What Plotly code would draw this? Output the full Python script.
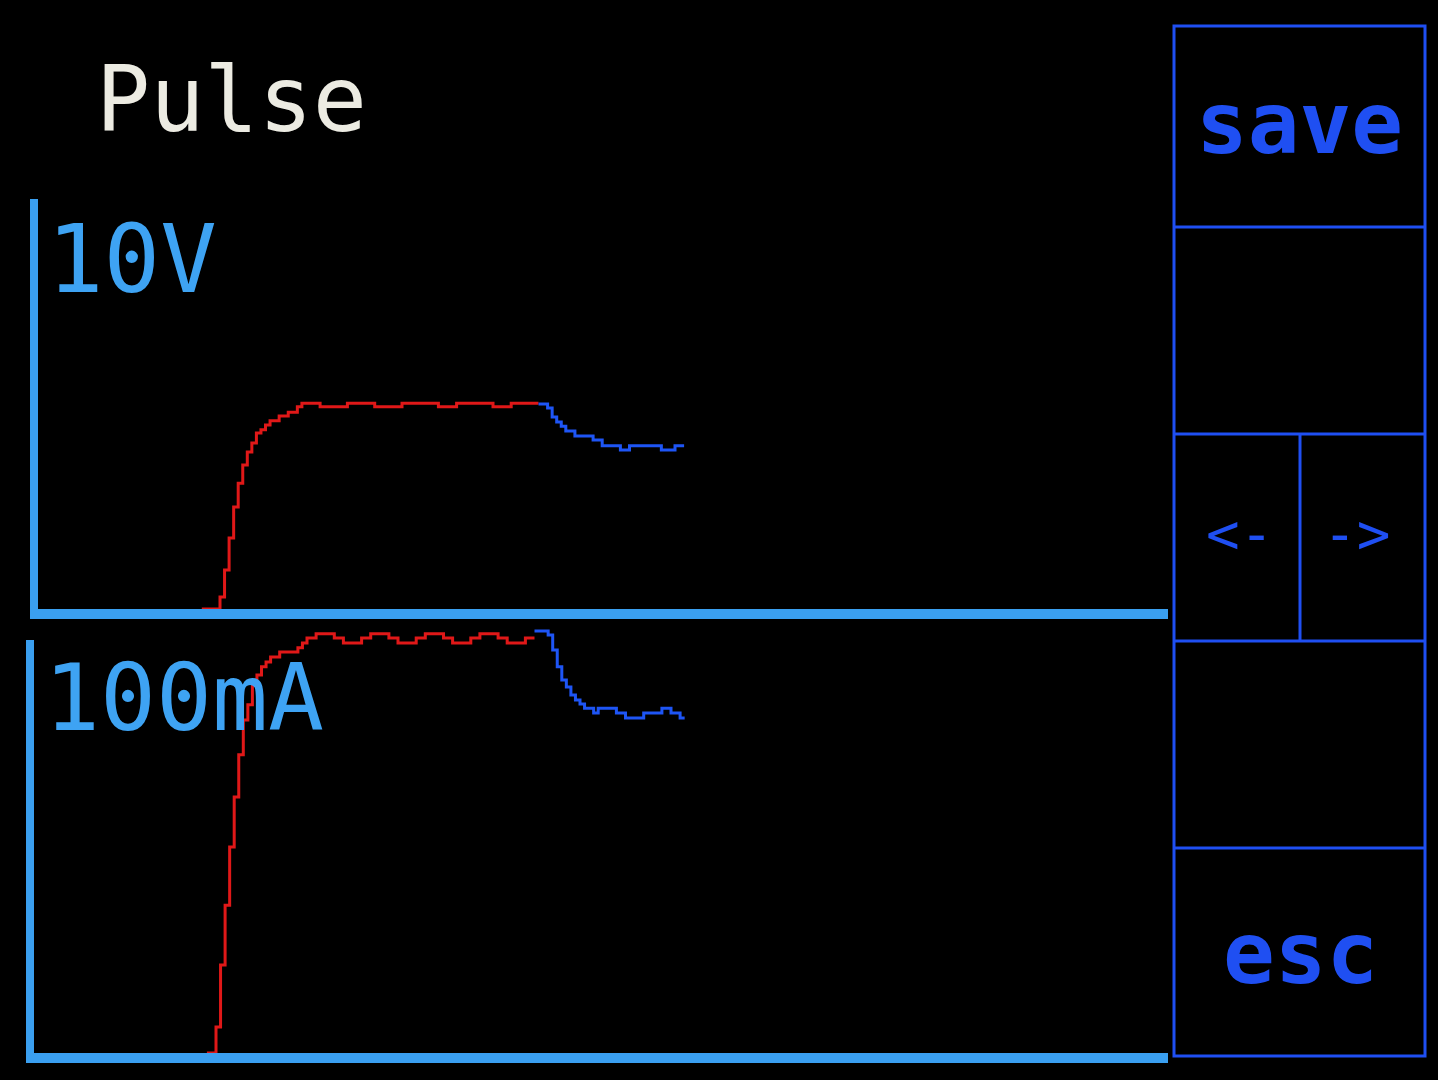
import plotly.graph_objects as go

W, H = 1438, 1080

# ---------------- data (sample index, value) ----------------
# Voltage panel (V): pulse phase (red) and relaxation phase (blue)
v_on_t = [36, 40, 41, 42, 43, 44, 45, 46, 47, 48, 49, 50, 51, 53, 55, 57, 58,
          62, 68, 74, 80, 88, 92, 100, 104, 110]
v_on_v = [0.0, 0.29, 0.95, 1.73, 2.49, 3.07, 3.51, 3.83, 4.05, 4.29, 4.37, 4.49,
          4.59, 4.71, 4.80, 4.93, 5.02, 4.93, 5.02, 4.93, 5.02, 4.93, 5.02,
          4.93, 5.02, 5.02]
v_off_t = [110, 112, 113, 114, 115, 116, 118, 122, 124, 128, 130, 137, 140, 142]
v_off_v = [5.00, 4.90, 4.68, 4.56, 4.46, 4.34, 4.22, 4.12, 3.98, 3.88, 3.98,
           3.88, 3.98, 3.98]

# Current panel (mA)
i_on_t = [38, 40, 41, 42, 43, 44, 45, 46, 47, 48, 49, 50, 51, 52, 54, 58, 59,
          60, 62, 66, 68, 72, 74, 78, 80, 84, 86, 90, 92, 96, 98, 102, 104,
          108, 110]
i_on_v = [0.0, 6.3, 21.3, 35.8, 49.9, 62.0, 72.2, 80.6, 84.3, 89.1, 91.5, 93.5,
          94.7, 95.9, 97.1, 98.1, 99.3, 100.5, 101.5, 100.5, 99.3, 100.5,
          101.5, 100.5, 99.3, 100.5, 101.5, 100.5, 99.3, 100.5, 101.5, 100.5,
          99.3, 100.5, 100.5]
i_off_t = [110, 113, 114, 115, 116, 117, 118, 119, 120, 121, 123, 124, 128,
           130, 134, 138, 140, 142, 143]
i_off_v = [102.2, 101.2, 97.6, 93.5, 90.3, 88.6, 86.7, 85.5, 84.5, 83.5, 82.3,
           83.5, 82.3, 81.1, 82.3, 83.5, 82.3, 81.1, 81.1]

title_text = "Pulse"
v_label = "10V"
i_label = "100mA"
v_full, i_full = 10, 100
buttons = ["save", "<-", "->", "esc"]

# ---------------- style ----------------
RED = "#e01818"
TRACE_BLUE = "#1e55f5"
AXIS_BLUE = "#3a9ff0"
UI_BLUE = "#1f4ff2"
FONT = "DejaVu Sans Mono"


def px(x):
    return x / W


def py(y):
    return 1 - y / H


fig = go.Figure()
fig.add_trace(go.Scatter(x=v_on_t, y=v_on_v, mode="lines", line=dict(color=RED, width=3, shape="hv"),
                         xaxis="x", yaxis="y"))
fig.add_trace(go.Scatter(x=v_off_t, y=v_off_v, mode="lines", line=dict(color=TRACE_BLUE, width=3, shape="hv"),
                         xaxis="x", yaxis="y"))
fig.add_trace(go.Scatter(x=i_on_t, y=i_on_v, mode="lines", line=dict(color=RED, width=3, shape="hv"),
                         xaxis="x2", yaxis="y2"))
fig.add_trace(go.Scatter(x=i_off_t, y=i_off_v, mode="lines", line=dict(color=TRACE_BLUE, width=3, shape="hv"),
                         xaxis="x2", yaxis="y2"))

SCALE = 4.55  # screen px per sample
axcommon = dict(showgrid=False, zeroline=False, showticklabels=False, ticks="", fixedrange=True)

x1_left, x_right = 38, 1168
x2_origin, x2_line_left = 34, 26
v_bot, v_top = 609, 199
i_bot, i_top_axis, i_top_plot = 1053, 640, 600
i_px_per = (i_bot - i_top_axis) / i_full
x2_range = [-(x2_origin - x2_line_left) / SCALE, (x_right - x2_origin) / SCALE]

fig.update_layout(
    width=W, height=H, margin=dict(l=0, r=0, t=0, b=0),
    paper_bgcolor="black", plot_bgcolor="rgba(0,0,0,0)", showlegend=False,
    xaxis=dict(domain=[px(x1_left), px(x_right)], range=[0, (x_right - x1_left) / SCALE], anchor="y",
               showline=True, linecolor=AXIS_BLUE, linewidth=10, **axcommon),
    yaxis=dict(domain=[py(v_bot), py(v_top)], range=[0, v_full], anchor="x",
               showline=True, linecolor=AXIS_BLUE, linewidth=8, **axcommon),
    # current panel: plot area leaves headroom above full scale so the overshoot is not clipped
    xaxis2=dict(domain=[px(x2_line_left), px(x_right)], range=x2_range, anchor="y2",
                showline=True, linecolor=AXIS_BLUE, linewidth=10, **axcommon),
    yaxis2=dict(domain=[py(i_bot), py(i_top_plot)], range=[0, (i_bot - i_top_plot) / i_px_per], anchor="x2",
                showline=False, **axcommon),
)

# vertical axis of the current panel, from 0 to full scale (100 mA) in data units
shapes = [dict(type="line", xref="x2 domain", xsizemode="pixel", xanchor=0, x0=4, x1=4,
               yref="y2", y0=0, y1=i_full, line=dict(color=AXIS_BLUE, width=8), layer="above")]

# right-hand button panel
box_l, box_r, box_t, box_b = 1174, 1425, 26, 1056
shapes.append(dict(type="rect", xref="paper", yref="paper", x0=px(box_l), x1=px(box_r),
                   y0=py(box_b), y1=py(box_t), line=dict(color=UI_BLUE, width=3)))
for yy in [227, 434, 641, 848]:
    shapes.append(dict(type="line", xref="paper", yref="paper", x0=px(box_l), x1=px(box_r),
                       y0=py(yy), y1=py(yy), line=dict(color=UI_BLUE, width=3)))
shapes.append(dict(type="line", xref="paper", yref="paper", x0=px(1300), x1=px(1300),
                   y0=py(434), y1=py(641), line=dict(color=UI_BLUE, width=3)))
fig.update_layout(shapes=shapes)

ann = []
ann.append(dict(text=title_text, x=px(232), y=py(99), xref="paper", yref="paper", showarrow=False,
                xanchor="center", yanchor="middle", font=dict(family=FONT, size=90, color="#ecebe2")))
ann.append(dict(text=v_label, x=px(45), y=py(259), xref="paper", yref="paper", showarrow=False,
                xanchor="left", yanchor="middle", font=dict(family=FONT, size=94, color="#3ea3f3")))
ann.append(dict(text=i_label, x=px(42), y=py(698), xref="paper", yref="paper", showarrow=False,
                xanchor="left", yanchor="middle", font=dict(family=FONT, size=93, color="#3ea3f3")))
for txt, cx, cy, sz, bold in [(buttons[0], 1299, 123, 86, True), (buttons[1], 1239, 533, 56, False),
                              (buttons[2], 1356, 533, 56, False), (buttons[3], 1300, 953, 86, True)]:
    t = f"<b>{txt}</b>" if bold else txt
    ann.append(dict(text=t, x=px(cx), y=py(cy), xref="paper", yref="paper", showarrow=False,
                    xanchor="center", yanchor="middle", font=dict(family=FONT, size=sz, color=UI_BLUE)))
fig.update_layout(annotations=ann)

fig.write_html("out.html", config={"displayModeBar": False},
               post_script="document.body.style.margin='0';document.body.style.overflow='hidden';")
